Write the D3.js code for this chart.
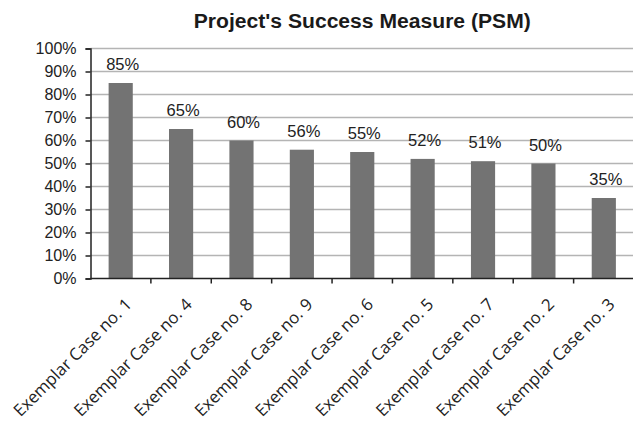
<!DOCTYPE html>
<html><head><meta charset="utf-8">
<script src="https://cdn.jsdelivr.net/npm/d3@7"></script>
<style>body{margin:0;background:#fff}svg{display:block}</style>
</head><body>
<script>
const categories = ["Exemplar Case no. 1","Exemplar Case no. 4","Exemplar Case no. 8","Exemplar Case no. 9","Exemplar Case no. 6","Exemplar Case no. 5","Exemplar Case no. 7","Exemplar Case no. 2","Exemplar Case no. 3"];
const values = [85,65,60,56,55,52,51,50,35];
const yTicks = [0,10,20,30,40,50,60,70,80,90,100];
const title = "Project's Success Measure (PSM)";

(function () {
const W = 633, H = 430;
const svg = d3.select("body").append("svg").attr("width", W).attr("height", H);
const mLeft = 90.5, mRight = 634, mTop = 48.5, mBottom = 278.5;

const x = d3.scaleBand().domain(categories).range([mLeft, mRight]).paddingInner(0.6).paddingOuter(0.3);
const y = d3.scaleLinear().domain([0, 100]).range([mBottom, mTop]);

svg.append("text").attr("x", (mLeft + mRight) / 2).attr("y", 28).attr("text-anchor", "middle")
  .attr("font-family", "Liberation Sans, Arial, sans-serif").attr("font-weight", "bold")
  .attr("font-size", 19.5).attr("fill", "#1a1a1a")
  .attr("textLength", 337).attr("lengthAdjust", "spacingAndGlyphs").text(title);

// gridlines
svg.append("g").selectAll("line").data(yTicks.filter(d => d > 0)).join("line")
  .attr("x1", mLeft).attr("x2", mRight).attr("y1", d => y(d)).attr("y2", d => y(d))
  .attr("stroke", "#b4b4b4").attr("stroke-width", 1.5);

// bars
svg.append("g").selectAll("rect").data(values).join("rect")
  .attr("x", (d, i) => x(categories[i])).attr("width", x.bandwidth())
  .attr("y", d => y(d)).attr("height", d => y(0) - y(d))
  .attr("fill", "#737373");

// value labels
svg.append("g").selectAll("text").data(values).join("text")
  .attr("x", (d, i) => x(categories[i]) + x.bandwidth() / 2 + 2)
  .attr("y", d => y(d) - 13)
  .attr("text-anchor", "middle").attr("font-family", "Liberation Sans, Arial, sans-serif")
  .attr("font-size", 16.5).attr("fill", "#222").text(d => d + "%");

// y axis
const yAxis = svg.append("g").attr("transform", `translate(${mLeft},0)`)
  .call(d3.axisLeft(y).tickValues(yTicks).tickSize(5).tickFormat(d => d + "%"));
yAxis.select(".domain").attr("stroke", "#222").attr("stroke-width", 1.5);
yAxis.selectAll(".tick line").attr("stroke", "#222").attr("stroke-width", 1.5);
yAxis.selectAll("text").attr("font-family", "Liberation Sans, Arial, sans-serif")
  .attr("font-size", 16).attr("fill", "#222").attr("x", -14);

// x axis
const xAxisG = svg.append("g").attr("transform", `translate(0,${mBottom})`);
xAxisG.append("line").attr("x1", mLeft).attr("x2", mRight).attr("stroke", "#222").attr("stroke-width", 1.5);
const step = x.step();
xAxisG.selectAll("line.tk").data(d3.range(1, categories.length)).join("line").attr("class", "tk")
  .attr("x1", i => mLeft + i * step).attr("x2", i => mLeft + i * step)
  .attr("y1", 0).attr("y2", 5).attr("stroke", "#222").attr("stroke-width", 1.5);

xAxisG.selectAll("text").data(categories).join("text")
  .attr("transform", d => `translate(${x(d) + x.bandwidth() / 2 + 12},${27}) rotate(-45)`)
  .attr("text-anchor", "end").attr("font-family", "Open Sans, sans-serif")
  .attr("font-size", 16.8).attr("fill", "#222").text(d => d);
})();
</script>
</body></html>
